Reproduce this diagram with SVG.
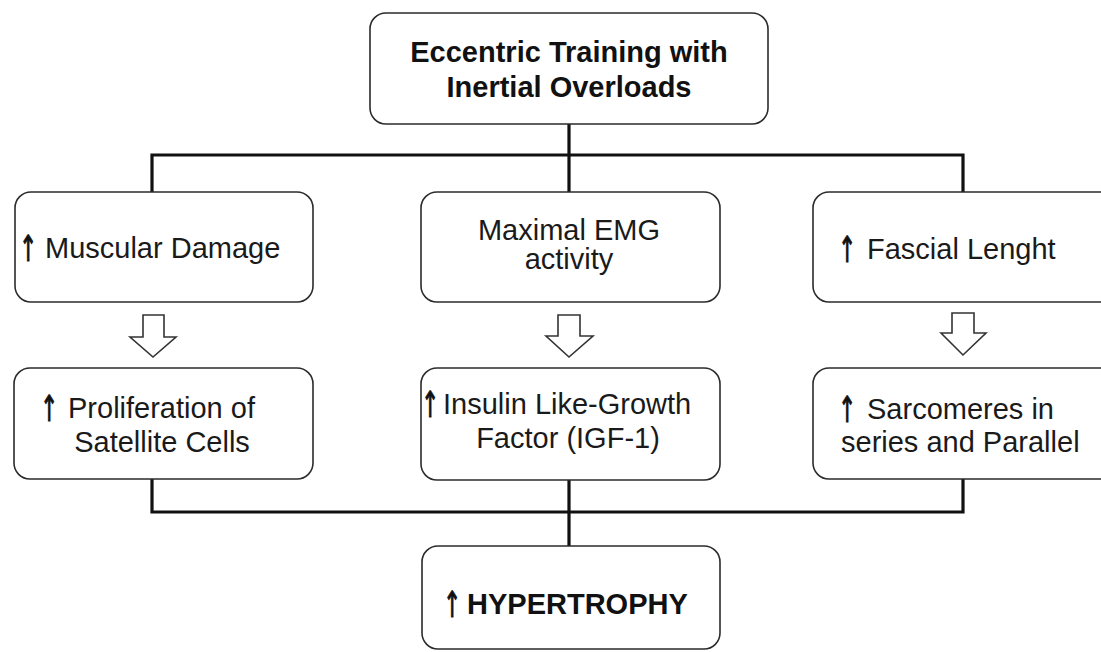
<svg xmlns="http://www.w3.org/2000/svg" width="1101" height="652" viewBox="0 0 1101 652">
<style>
.box{fill:#fff;stroke:#2b2b2b;stroke-width:1.6}
.conn{fill:none;stroke:#111;stroke-width:3.2}
.blk{fill:#fff;stroke:#333;stroke-width:1.6;stroke-linejoin:miter}
.t{font-family:"Liberation Sans",Arial,sans-serif;font-size:29px;fill:#1a1a1a}
.b{font-weight:bold;fill:#111}
.c{text-anchor:middle}
.up{font-family:"DejaVu Sans","Liberation Sans",sans-serif;font-size:36px;fill:#111;stroke:#111;stroke-width:1;text-anchor:middle}
</style>
<rect width="1101" height="652" fill="#fff"/>
<g id="connectors">
<path class="conn" d="M569,124 V155 M152,192 V155 H963 V192 M569,155 V192"/>
<path class="conn" d="M152,479 V512 H963 V479 M569,480 V546"/>
<path class="blk" d="M143,315 H164 V337 H176 L153,357 L130,337 H143 Z"/>
<path class="blk" d="M558,315 H580 V336 H593 L569,357 L546,336 H558 Z"/>
<path class="blk" d="M952,313 H974 V333 H986 L963,355 L941,333 H952 Z"/>
</g>
<g id="top">
<rect class="box" x="370" y="13" width="398" height="111" rx="16"/>
<text class="t b c" x="569" y="62">Eccentric Training with</text>
<text class="t b c" x="569" y="97">Inertial Overloads</text>
</g>
<g id="muscular">
<rect class="box" x="15" y="192" width="298" height="110" rx="16"/>
<text class="up" transform="translate(28,261) scale(0.6,1)">↑</text>
<text class="t" x="45" y="258">Muscular Damage</text>
</g>
<g id="emg">
<rect class="box" x="421" y="192" width="299" height="110" rx="16"/>
<text class="t c" x="569" y="240">Maximal EMG</text>
<text class="t c" x="569" y="269">activity</text>
</g>
<g id="fascial">
<rect class="box" x="813" y="192" width="304" height="110" rx="16"/>
<text class="up" transform="translate(847,262) scale(0.6,1)">↑</text>
<text class="t" x="867" y="259">Fascial Lenght</text>
</g>
<g id="satellite">
<rect class="box" x="14" y="368" width="299" height="111" rx="16"/>
<text class="up" transform="translate(49,421) scale(0.6,1)">↑</text>
<text class="t" x="68" y="418">Proliferation of</text>
<text class="t c" x="162" y="452">Satellite Cells</text>
</g>
<g id="igf">
<rect class="box" x="421" y="368" width="299" height="112" rx="16"/>
<text class="up" transform="translate(430,417) scale(0.6,1)">↑</text>
<text class="t" x="443" y="414">Insulin Like-Growth</text>
<text class="t c" x="568" y="448">Factor (IGF-1)</text>
</g>
<g id="sarcomeres">
<rect class="box" x="813" y="368" width="304" height="111" rx="16"/>
<text class="up" transform="translate(847,422) scale(0.6,1)">↑</text>
<text class="t" x="867" y="419">Sarcomeres in</text>
<text class="t" x="841" y="452">series and Parallel</text>
</g>
<g id="hypertrophy">
<rect class="box" x="422" y="546" width="298" height="103" rx="16"/>
<text class="up" transform="translate(452,617) scale(0.6,1)">↑</text>
<text class="t b" x="467" y="614">HYPERTROPHY</text>
</g>
</svg>
